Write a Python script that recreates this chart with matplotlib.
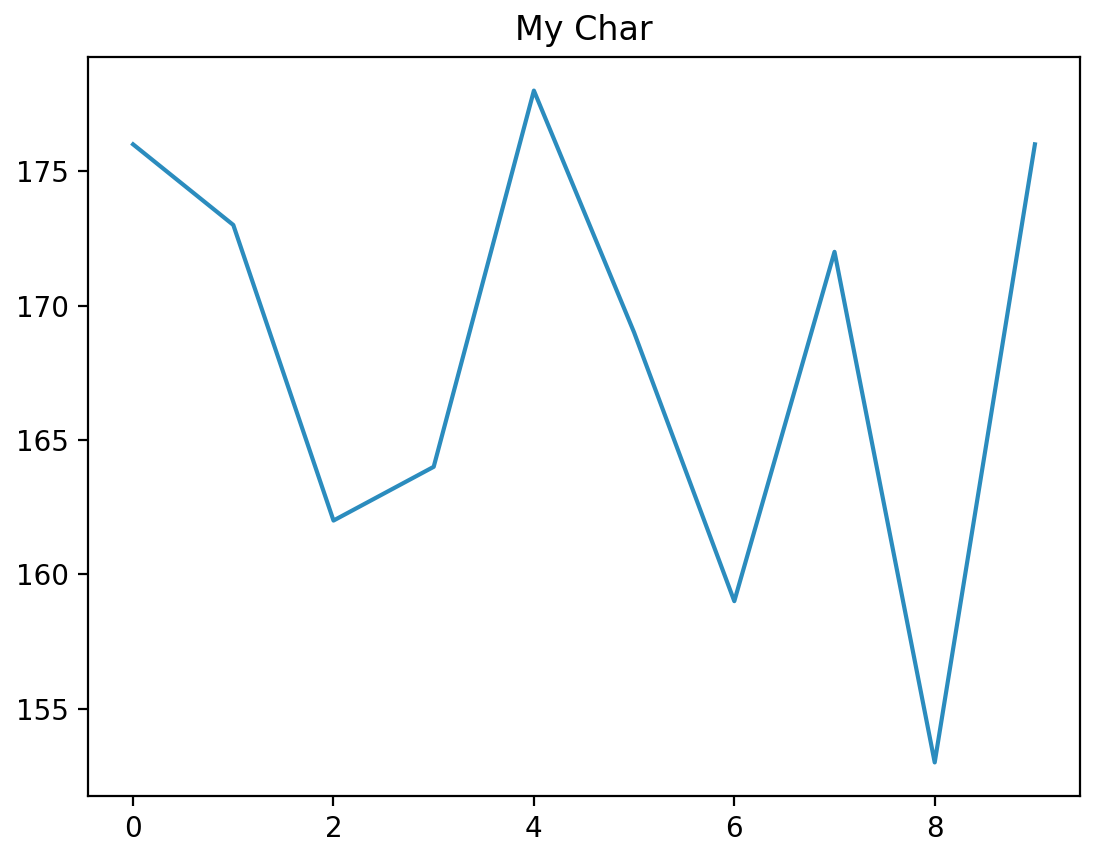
import matplotlib
matplotlib.use("Agg")
import matplotlib.pyplot as plt

# donnees
x_values = [0, 1, 2, 3, 4, 5, 6, 7, 8, 9]
y_values = [176, 173, 162, 164, 178, 169, 159, 172, 153, 176]

fig = plt.figure(figsize=(1116 / 200, 852 / 200), dpi=200)
# position des axes en pixels du graphique de reference
ax = fig.add_axes([88 / 1116, (852 - 796) / 852, (1080 - 88) / 1116, (796 - 57) / 852])
ax.plot(x_values, y_values, color='#2b8cbe', linewidth=1.5)
ax.set_title("My Char")
fig.savefig("out.png", dpi=200)
